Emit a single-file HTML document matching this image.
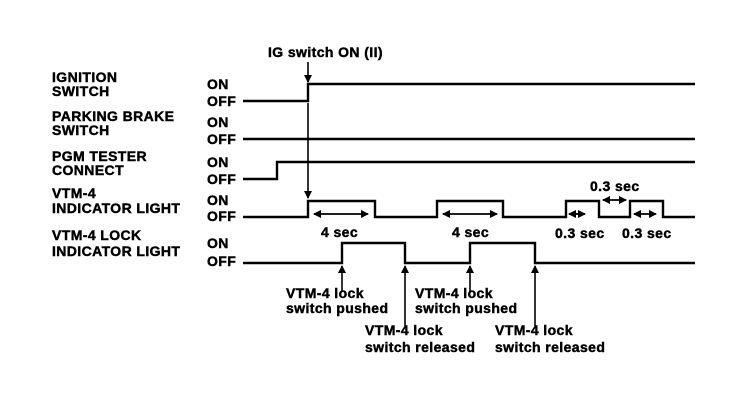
<!DOCTYPE html>
<html><head><meta charset="utf-8"><style>
html,body{margin:0;padding:0;background:#fff}
svg{display:block}
text{font-family:"Liberation Sans",Arial,sans-serif;font-weight:bold;font-size:14px;letter-spacing:0.4px;fill:#000;stroke:#000;stroke-width:0.45px}
</style></head><body>
<svg width="736" height="400" viewBox="0 0 736 400" xmlns="http://www.w3.org/2000/svg">
<defs>
<marker id="ah" markerWidth="8" markerHeight="8" refX="7" refY="4" orient="auto" markerUnits="userSpaceOnUse">
<path d="M0,0 L8,4 L0,8 z" fill="#000"/></marker>
</defs>
<g>
<text x="52" y="82">IGNITION</text><text x="52" y="96">SWITCH</text>
<text x="52" y="121">PARKING BRAKE</text><text x="52" y="135">SWITCH</text>
<text x="52" y="161">PGM TESTER</text><text x="52" y="175">CONNECT</text>
<text x="52" y="198">VTM-4</text><text x="52" y="213">INDICATOR LIGHT</text>
<text x="52" y="240">VTM-4 LOCK</text><text x="52" y="256">INDICATOR LIGHT</text>
<text x="207" y="89">ON</text><text x="207" y="106">OFF</text>
<text x="207" y="127">ON</text><text x="207" y="144">OFF</text>
<text x="207" y="167">ON</text><text x="207" y="184">OFF</text>
<text x="207" y="205">ON</text><text x="207" y="221">OFF</text>
<text x="207" y="248">ON</text><text x="207" y="266">OFF</text>
</g>
<g fill="none" stroke="#000" stroke-width="2.4">
<polyline points="243,101 308,101 308,84 695,84"/>
<polyline points="243,139 695,139"/>
<polyline points="243,179 277,179 277,162 695,162"/>
<polyline points="243,217 308,217 308,201 375,201 375,217 437,217 437,201 503,201 503,217 566,217 566,201 599,201 599,217 630,217 630,201 663,201 663,217 695,217"/>
<polyline points="243,263 342,263 342,243 405,243 405,263 470,263 470,243 535,243 535,263 695,263"/>
</g>
<g stroke="#000" stroke-width="1.6" fill="none">
<line x1="308" y1="62" x2="308" y2="82" marker-end="url(#ah)"/>
<line x1="308" y1="103" x2="308" y2="198" marker-end="url(#ah)"/>
<line x1="342" y1="292" x2="342" y2="266" marker-end="url(#ah)"/>
<line x1="405" y1="326" x2="405" y2="266" marker-end="url(#ah)"/>
<line x1="470" y1="292" x2="470" y2="266" marker-end="url(#ah)"/>
<line x1="535" y1="326" x2="535" y2="266" marker-end="url(#ah)"/>
<line x1="314" y1="214" x2="368" y2="214" marker-end="url(#ah)"/>
<line x1="368" y1="214" x2="314" y2="214" marker-end="url(#ah)"/>
<line x1="443" y1="214" x2="497" y2="214" marker-end="url(#ah)"/>
<line x1="497" y1="214" x2="443" y2="214" marker-end="url(#ah)"/>
<line x1="569" y1="214" x2="585" y2="214" marker-end="url(#ah)"/>
<line x1="585" y1="214" x2="569" y2="214" marker-end="url(#ah)"/>
<line x1="603" y1="200" x2="626" y2="200" marker-end="url(#ah)"/>
<line x1="626" y1="200" x2="603" y2="200" marker-end="url(#ah)"/>
<line x1="634" y1="214" x2="656" y2="214" marker-end="url(#ah)"/>
<line x1="656" y1="214" x2="634" y2="214" marker-end="url(#ah)"/>
</g>
<g>
<text x="268" y="57">IG switch ON (II)</text>
<text x="321" y="237">4 sec</text>
<text x="452" y="237">4 sec</text>
<text x="590" y="191">0.3 sec</text>
<text x="555" y="238">0.3 sec</text>
<text x="622" y="238">0.3 sec</text>
<text x="286" y="298">VTM-4 lock</text><text x="286" y="313">switch pushed</text>
<text x="415" y="298">VTM-4 lock</text><text x="415" y="313">switch pushed</text>
<text x="365" y="335">VTM-4 lock</text><text x="365" y="352">switch released</text>
<text x="495" y="335">VTM-4 lock</text><text x="495" y="352">switch released</text>
</g>
</svg>
</body></html>
